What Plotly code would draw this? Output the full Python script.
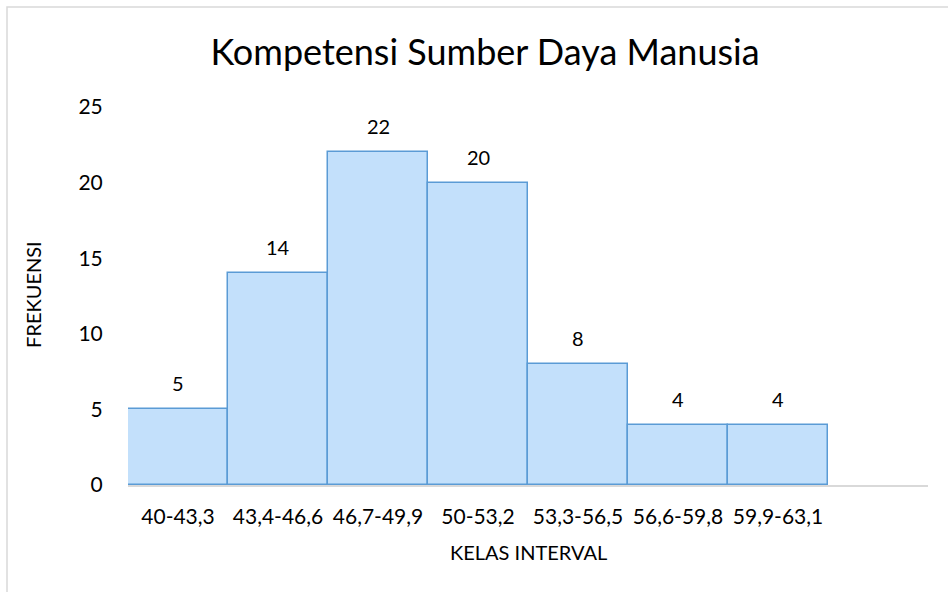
import plotly.graph_objects as go

categories = ["40-43,3", "43,4-46,6", "46,7-49,9", "50-53,2", "53,3-56,5", "56,6-59,8", "59,9-63,1"]
frequencies = [5, 14, 22, 20, 8, 4, 4]
y_ticks = [0, 5, 10, 15, 20, 25]

FONT = "Lato"
positions = list(range(len(categories)))

fig = go.Figure()
fig.add_trace(go.Bar(
    x=positions,
    y=frequencies,
    width=1,
    marker=dict(color="#c3e0fb", line=dict(color="#5b9bd5", width=1.5)),
    showlegend=False,
    hoverinfo="x+y",
))

annotations = []
for xi, v in zip(positions, frequencies):
    annotations.append(dict(x=xi, y=v, xref="x", yref="y", text=str(v), showarrow=False,
                            yshift=26, font=dict(family=FONT, size=20, color="#000000")))

annotations.append(dict(text="FREKUENSI", xref="paper", yref="paper", x=-0.119, y=0.505,
                        textangle=-90, showarrow=False, xanchor="center", yanchor="middle",
                        font=dict(family=FONT, size=20, color="#000000")))
annotations.append(dict(text="KELAS INTERVAL", xref="paper", yref="paper", x=0.5, y=-0.177,
                        showarrow=False, xanchor="center", yanchor="middle",
                        font=dict(family=FONT, size=20, color="#000000")))

fig.update_layout(
    width=948, height=592,
    margin=dict(l=128, r=20, t=107, b=107),
    paper_bgcolor="white", plot_bgcolor="white",
    title=dict(text="Kompetensi Sumber Daya Manusia", x=485 / 948, xref="container", xanchor="center",
               y=1 - 52 / 592, yref="container", yanchor="middle",
               font=dict(family=FONT, size=36, color="#000000")),
    bargap=0,
    annotations=annotations,
    shapes=[dict(type="rect", xref="paper", yref="paper", x0=-0.15125, x1=1.2, y0=-0.6, y1=1.2646,
                 line=dict(color="#d9d9d9", width=1.5), fillcolor="rgba(0,0,0,0)", layer="below")],
    xaxis=dict(range=[-0.5, 7.5], tickmode="array", tickvals=positions, ticktext=categories,
               showgrid=False, zeroline=False, showline=True, linecolor="#d9d9d9", linewidth=1.5,
               ticks="outside", ticklen=12, tickcolor="rgba(0,0,0,0)",
               tickfont=dict(family=FONT, size=21, color="#000000")),
    yaxis=dict(range=[0, 25], tickmode="array", tickvals=y_ticks, showgrid=False, zeroline=False,
               showline=False, ticks="outside", ticklen=20, tickcolor="rgba(0,0,0,0)",
               tickfont=dict(family=FONT, size=21, color="#000000")),
)

fig.write_html("out.html", config={"displayModeBar": False},
               post_script="document.body.style.margin='0';")
